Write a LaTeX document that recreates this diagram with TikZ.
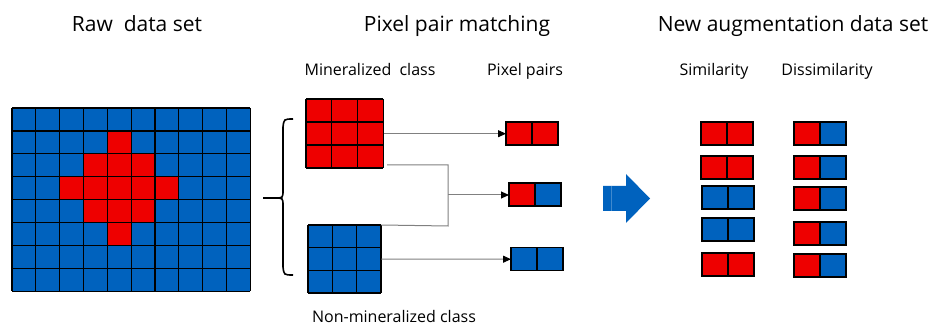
\documentclass[tikz,border=0pt]{standalone}
\usepackage{fontspec}
\setmainfont{Open Sans}
\usetikzlibrary{arrows.meta}

\definecolor{cellred}{RGB}{238,0,0}
\definecolor{cellblue}{RGB}{0,98,190}
\definecolor{linkgray}{RGB}{128,128,128}

\tikzset{
  cellline/.style={black, line width=1.2pt},
  link/.style={linkgray, line width=1pt},
  linkarrow/.style={link, -{Triangle[length=8pt,width=7pt,color=black]}},
  title/.style={anchor=base, inner sep=0pt, font=\fontsize{21}{25}\selectfont},
  subtitle/.style={anchor=base, inner sep=0pt, font=\fontsize{16}{19}\selectfont},
  blockarea/.style={draw=none, inner sep=0pt, anchor=north west},
}

% two-cell pixel pair: name, left x, top y, left colour, right colour
\newcommand\pxpair[5]{%
  \fill[#4] (#2,#3) rectangle (#2+26,#3+23);
  \fill[#5] (#2+26,#3) rectangle (#2+52,#3+23);
  \draw[cellline] (#2,#3) rectangle (#2+52,#3+23);
  \draw[cellline] (#2+26,#3) -- (#2+26,#3+23);
  \node[blockarea, minimum width=52pt, minimum height=23pt] (#1) at (#2,#3) {};
}

% 3x3 block: name, left x, top y, cell width, cell height, colour
\newcommand\pxblock[6]{%
  \fill[#6] (#2,#3) rectangle (#2+3*#4,#3+3*#5);
  \foreach \k in {0,1,2,3}{
    \draw[cellline] (#2+\k*#4,#3) -- (#2+\k*#4,#3+3*#5);
    \draw[cellline] (#2,#3+\k*#5) -- (#2+3*#4,#3+\k*#5);
  }
  \node[blockarea, minimum width=3*#4 pt, minimum height=3*#5 pt] (#1) at (#2,#3) {};
}

\begin{document}
\begin{tikzpicture}[x=1pt,y=-1pt]
\useasboundingbox (0,0) rectangle (935,331);

% headings
\node[title] (tRaw) at (137,32) {Raw\ \ data set};
\node[title] (tPair) at (457,32) {Pixel pair matching};
\node[title] (tNew) at (793,32) {New augmentation data set};
\node[subtitle] (tMin) at (370,76) {Mineralized\ \ class};
\node[subtitle] (tPairs) at (525,76) {Pixel pairs};
\node[subtitle] (tSim) at (714,76) {Similarity};
\node[subtitle] (tDis) at (827,76) {Dissimilarity};
\node[subtitle] (tNon) at (394,323) {Non-mineralized class};

% raw 10x8 image with a red cross-shaped target
\def\cw{23.83}
\def\ch{22.93}
\fill[cellblue] (12,108) rectangle (12+10*\cw,108+8*\ch);
\foreach \c/\r in {4/1, 3/2,4/2,5/2, 2/3,3/3,4/3,5/3,6/3, 3/4,4/4,5/4, 4/5}{
  \fill[cellred] (12+\c*\cw,108+\r*\ch) rectangle ++(\cw,\ch);
}
\foreach \k in {0,...,10}{ \draw[cellline] (12+\k*\cw,108) -- (12+\k*\cw,108+8*\ch); }
\foreach \k in {0,...,8}{ \draw[cellline] (12,108+\k*\ch) -- (12+10*\cw,108+\k*\ch); }
\node[blockarea, minimum width=238.3pt, minimum height=183.4pt] (raw) at (12,108) {};

% brace grouping the two classes
\draw[black, line width=1.6pt]
  (293,119) .. controls (284,119) .. (283,127) -- (283,190)
  .. controls (283,198) .. (275,198) -- (263,198);
\draw[black, line width=1.6pt]
  (275,198) .. controls (283,198) .. (283,206) -- (283,267)
  .. controls (284,275) .. (293,275);

% class blocks
\pxblock{mred}{306}{99}{25.7}{23}{cellred}
\pxblock{mblue}{308}{225}{24.3}{22.7}{cellblue}

% pixel pairs
\pxpair{p1}{506}{122}{cellred}{cellred}
\pxpair{p2}{509}{183}{cellred}{cellblue}
\pxpair{p3}{511}{247.5}{cellblue}{cellblue}

% matching connectors
\coordinate (redtap) at (387,165);
\coordinate (joinTop) at (448,165);
\coordinate (joinBot) at (448,226);
\coordinate (joinMid) at (448,195);
\draw[linkarrow] (mred.east) -- (p1.west);
\draw[link] (redtap) -- (joinTop) -- (joinBot) -- (mblue.north east);
\draw[linkarrow] (joinMid) -- (joinMid -| p2.west);
\draw[linkarrow] (mblue.east) -- (p3.west);

% block arrow
\fill[cellblue] (603,186) -- (626,186) -- (626,174) -- (650,198.5)
  -- (626,223) -- (626,211) -- (603,211) -- cycle;
\draw[cellblue!75!white, line width=0.6pt] (611,186) -- (611,211);
\coordinate (bigarrow) at (626,198.5);

% augmented set: similarity column
\pxpair{s1}{701}{122}{cellred}{cellred}
\pxpair{s2}{701}{156}{cellred}{cellred}
\pxpair{s3}{702}{186}{cellblue}{cellblue}
\pxpair{s4}{702}{218}{cellblue}{cellblue}
\pxpair{s5}{702}{253}{cellred}{cellred}

% augmented set: dissimilarity column
\pxpair{d1}{794}{122}{cellred}{cellblue}
\pxpair{d2}{794}{156}{cellred}{cellblue}
\pxpair{d3}{794}{187}{cellred}{cellblue}
\pxpair{d4}{794}{222}{cellred}{cellblue}
\pxpair{d5}{794}{254}{cellred}{cellblue}
\end{tikzpicture}
\end{document}
